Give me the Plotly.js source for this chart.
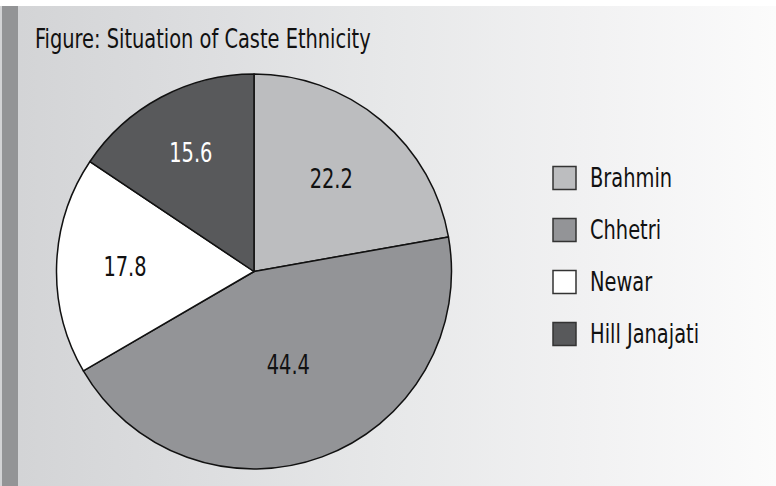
<!DOCTYPE html>
<html>
<head>
<meta charset="utf-8">
<script src="https://cdn.plot.ly/plotly-3.0.1.min.js"></script>
<style>
  html, body { margin: 0; padding: 0; background: #ffffff; }
  #wrap { position: relative; width: 776px; height: 486px; }
  #bg { position: absolute; left: 0; top: 6px; width: 776px; height: 480px;
        background: linear-gradient(to right, #d2d3d5 0%, #dcdddf 25%, #e7e8e9 50%, #f1f1f2 75%, #fbfbfb 100%); }
  #strip { position: absolute; left: 2px; top: 6px; width: 16px; height: 480px; background: #939496; }
  #chart { position: absolute; left: 0; top: 0; width: 776px; height: 486px; }
</style>
</head>
<body>
<div id="wrap">
  <div id="bg"></div>
  <div id="strip"></div>
  <div id="chart"></div>
</div>
<script>
const categories = ["Brahmin", "Chhetri", "Newar", "Hill Janajati"];
const values = [22.2, 44.4, 17.8, 15.6];
const sliceColors = ["#bcbdbf", "#939497", "#ffffff", "#58595b"];
const labelColors = ["#111111", "#111111", "#111111", "#ffffff"];
const chartTitle = "Figure: Situation of Caste Ethnicity";

const FONT = "'Liberation Sans Narrow', 'DejaVu Sans Condensed', 'Arial Narrow', sans-serif";
const W = 776, H = 486;
const NARROW = 0.83; // horizontal condensing to mimic a condensed typeface

const trace = {
  type: "pie",
  labels: categories,
  values: values,
  sort: false,
  direction: "clockwise",
  rotation: 0,
  marker: { colors: sliceColors, line: { color: "#111111", width: 1.5 } },
  texttemplate: "%{value}",
  textinfo: "value",
  textposition: "inside",
  insidetextorientation: "horizontal",
  textfont: { family: FONT, size: 26, color: labelColors },
  hoverinfo: "label+value",
  domain: { x: [56 / W, 452 / W], y: [1 - 469 / H, 1 - 74 / H] },
  showlegend: false
};

// custom legend built from the category / colour arrays
const legendShapes = [];
const legendAnn = [];
const legTop = 178, legStep = 52, boxX0 = 553, boxSize = 23, textX = 588;
categories.forEach((c, i) => {
  const cy = legTop + i * legStep;
  legendShapes.push({
    type: "rect", xref: "paper", yref: "paper",
    x0: boxX0 / W, x1: (boxX0 + boxSize) / W,
    y0: 1 - (cy + boxSize / 2) / H, y1: 1 - (cy - boxSize / 2) / H,
    fillcolor: sliceColors[i], line: { color: "#333333", width: 1.5 }
  });
  legendAnn.push({
    xref: "paper", yref: "paper", x: textX / W, y: 1 - cy / H,
    xanchor: "left", yanchor: "middle", showarrow: false,
    text: c, font: { family: FONT, size: 26, color: "#111111" }
  });
});

const layout = {
  width: W, height: H,
  margin: { l: 0, r: 0, t: 0, b: 0 },
  paper_bgcolor: "rgba(0,0,0,0)",
  plot_bgcolor: "rgba(0,0,0,0)",
  title: {
    text: chartTitle,
    x: 35 / W, xanchor: "left", xref: "paper",
    y: 1 - 39 / H, yanchor: "middle", yref: "paper",
    font: { family: FONT, size: 26, color: "#111111" }
  },
  shapes: legendShapes,
  annotations: legendAnn,
  showlegend: false
};

Plotly.newPlot("chart", [trace], layout, { displayModeBar: false, staticPlot: true }).then(gd => {
  const texts = gd.querySelectorAll("text.gtitle, text.annotation-text, text.slicetext");
  texts.forEach(el => {
    const bb = el.getBBox();
    let ax = bb.x; // left-aligned texts keep their left edge
    if (el.classList.contains("slicetext")) ax = bb.x + bb.width / 2; // pie labels keep their centre
    const old = el.getAttribute("transform") || "";
    el.setAttribute("transform", (old + " translate(" + ax + ",0) scale(" + NARROW + ",1) translate(" + (-ax) + ",0)").trim());
  });
});
</script>
</body>
</html>
